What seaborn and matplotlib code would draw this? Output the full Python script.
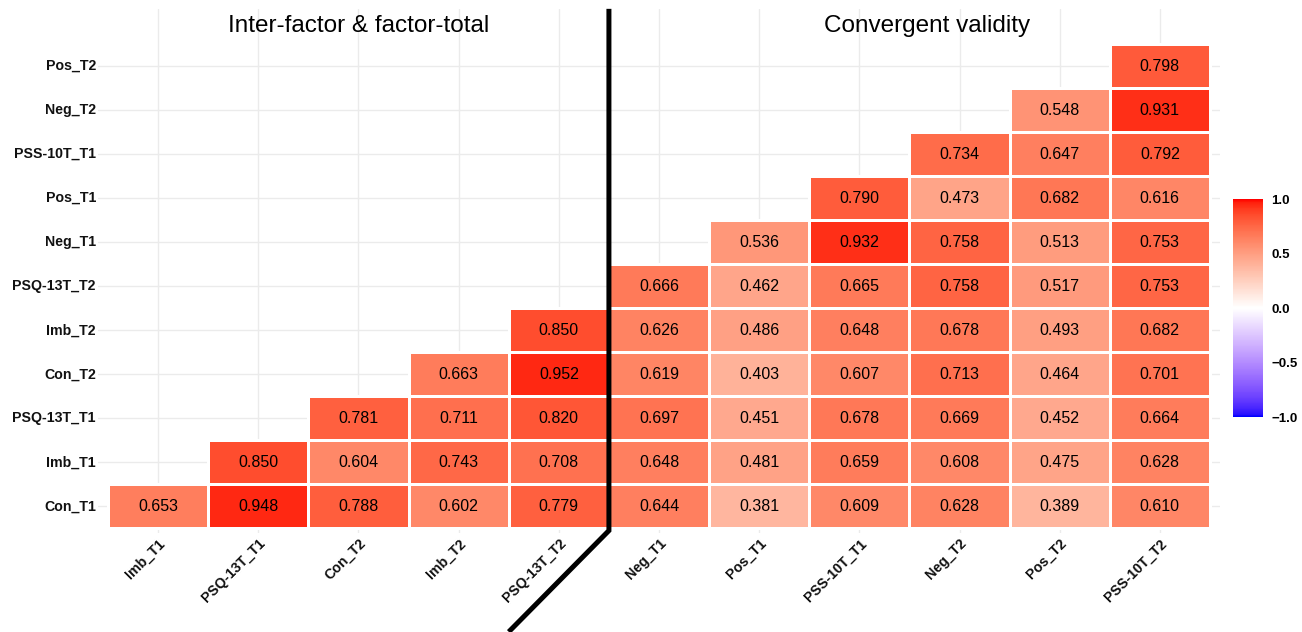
#!/usr/bin/env python3
"""
Correlation heatmap: inter-factor / factor-total and convergent validity.
"""
import numpy as np
import pandas as pd
import matplotlib
matplotlib.use("Agg")
import matplotlib.pyplot as plt
from matplotlib.colors import ListedColormap
import seaborn as sns

NA = np.nan

# Column order (left to right) and row order (top to bottom)
col_labels = ["Imb_T1", "PSQ-13T_T1", "Con_T2", "Imb_T2", "PSQ-13T_T2",
              "Neg_T1", "Pos_T1", "PSS-10T_T1", "Neg_T2", "Pos_T2", "PSS-10T_T2"]
row_labels = ["Pos_T2", "Neg_T2", "PSS-10T_T1", "Pos_T1", "Neg_T1", "PSQ-13T_T2",
              "Imb_T2", "Con_T2", "PSQ-13T_T1", "Imb_T1", "Con_T1"]

# Correlations, one list per row (top to bottom)
pos_t2     = [NA, NA, NA, NA, NA, NA, NA, NA, NA, NA, 0.798]
neg_t2     = [NA, NA, NA, NA, NA, NA, NA, NA, NA, 0.548, 0.931]
pss10_t1   = [NA, NA, NA, NA, NA, NA, NA, NA, 0.734, 0.647, 0.792]
pos_t1     = [NA, NA, NA, NA, NA, NA, NA, 0.790, 0.473, 0.682, 0.616]
neg_t1     = [NA, NA, NA, NA, NA, NA, 0.536, 0.932, 0.758, 0.513, 0.753]
psq13_t2   = [NA, NA, NA, NA, NA, 0.666, 0.462, 0.665, 0.758, 0.517, 0.753]
imb_t2     = [NA, NA, NA, NA, 0.850, 0.626, 0.486, 0.648, 0.678, 0.493, 0.682]
con_t2     = [NA, NA, NA, 0.663, 0.952, 0.619, 0.403, 0.607, 0.713, 0.464, 0.701]
psq13_t1   = [NA, NA, 0.781, 0.711, 0.820, 0.697, 0.451, 0.678, 0.669, 0.452, 0.664]
imb_t1     = [NA, 0.850, 0.604, 0.743, 0.708, 0.648, 0.481, 0.659, 0.608, 0.475, 0.628]
con_t1     = [0.653, 0.948, 0.788, 0.602, 0.779, 0.644, 0.381, 0.609, 0.628, 0.389, 0.610]

n_first_block = 5  # columns in "Inter-factor & factor-total"

corr_df = pd.DataFrame(
    [pos_t2, neg_t2, pss10_t1, pos_t1, neg_t1, psq13_t2,
     imb_t2, con_t2, psq13_t1, imb_t1, con_t1],
    index=row_labels, columns=col_labels)

# ggplot-like blue-white-red gradient, interpolated in CIELAB
WHITE = np.array([0.95047, 1.0, 1.08883])
M = np.array([[0.4124564, 0.3575761, 0.1804375],
              [0.2126729, 0.7151522, 0.0721750],
              [0.0193339, 0.1191920, 0.9503041]])
M_INV = np.linalg.inv(M)


def to_lab(rgb):
    rgb = np.asarray(rgb, float)
    lin = np.where(rgb <= 0.04045, rgb / 12.92, ((rgb + 0.055) / 1.055) ** 2.4)
    xyz = M @ lin / WHITE
    f = np.where(xyz > (6 / 29) ** 3, np.cbrt(xyz), xyz / (3 * (6 / 29) ** 2) + 4 / 29)
    return np.array([116 * f[1] - 16, 500 * (f[0] - f[1]), 200 * (f[1] - f[2])])


def to_rgb(lab):
    fy = (lab[0] + 16) / 116
    f = np.array([fy + lab[1] / 500, fy, fy - lab[2] / 200])
    xyz = np.where(f > 6 / 29, f ** 3, 3 * (6 / 29) ** 2 * (f - 4 / 29)) * WHITE
    lin = np.clip(M_INV @ xyz, 0, 1)
    rgb = np.where(lin <= 0.0031308, 12.92 * lin, 1.055 * lin ** (1 / 2.4) - 0.055)
    return np.clip(rgb, 0, 1)


lab_blue, lab_white, lab_red = to_lab([0, 0, 1]), to_lab([1, 1, 1]), to_lab([1, 0, 0])
ramp = [to_rgb(lab_blue + (lab_white - lab_blue) * t) for t in np.linspace(0, 1, 128)]
ramp += [to_rgb(lab_white + (lab_red - lab_white) * t) for t in np.linspace(0, 1, 128)]
cmap = ListedColormap(ramp)

sns.set_theme(style="white")
plt.rcParams["font.family"] = ["Liberation Sans", "DejaVu Sans"]

fig = plt.figure(figsize=(13.02, 6.32), dpi=100)
ax = fig.add_axes([0.0753, 0.157, 0.8617, 0.829])
cax = fig.add_axes([0.947, 0.340, 0.023, 0.345])

sns.heatmap(corr_df, ax=ax, cbar_ax=cax, cmap=cmap, vmin=-1, vmax=1,
            annot=True, fmt=".3f", linewidths=0.75, linecolor="white",
            annot_kws={"color": "black", "fontsize": 11.5})

# white borders only around filled tiles, so the grid stays continuous
mesh = ax.collections[0]
filled = corr_df.notna().to_numpy().ravel()
edge_rgba = np.zeros((filled.size, 4))
edge_rgba[filled] = [1, 1, 1, 1]
mesh.set_edgecolors(edge_rgba)

# light grid through the cell centres, behind the tiles
ax.set_axisbelow(True)
ax.grid(True, color="#EBEBEB", linewidth=1.0)
ax.set_xlim(-0.1, len(col_labels) + 0.1)
ax.set_ylim(len(row_labels) + 0.1, -0.8)
ax.set_xlabel("")
ax.set_ylabel("")
ax.tick_params(axis="both", length=0)
ax.tick_params(axis="y", pad=1.5)
ax.tick_params(axis="x", pad=2.5)
for lbl in ax.get_yticklabels():
    lbl.set_fontsize(10.2)
    lbl.set_fontweight("bold")
    lbl.set_color("#111111")
    lbl.set_rotation(0)
for lbl in ax.get_xticklabels():
    lbl.set_fontsize(10.2)
    lbl.set_fontweight("bold")
    lbl.set_color("#111111")
    lbl.set_rotation(45)
    lbl.set_ha("right")
    lbl.set_va("top")
    lbl.set_rotation_mode("anchor")

# block titles
ax.text(n_first_block / 2, -0.27, "Inter-factor & factor-total",
        ha="center", va="baseline", fontsize=17.5, color="black")
ax.text(8.18, -0.27, "Convergent validity",
        ha="center", va="baseline", fontsize=17.5, color="black")

# separator line between the two blocks
ax.plot([n_first_block, n_first_block, n_first_block - 1],
        [-0.8, len(row_labels) + 0.05, len(row_labels) + 2.35],
        color="black", linewidth=3.6, solid_capstyle="butt",
        solid_joinstyle="miter", clip_on=False)

# colourbar styling
cbar = mesh.colorbar
cbar.set_ticks([1.0, 0.5, 0.0, -0.5, -1.0])
cbar.set_ticklabels(["1.0", "0.5", "0.0", "\u22120.5", "\u22121.0"])
cbar.outline.set_visible(False)
cax.tick_params(direction="in", length=4.5, width=0.8, color="white",
                left=True, right=True, labelleft=False, labelright=True,
                pad=6, labelsize=9.5, labelcolor="black")
for lbl in cax.get_yticklabels():
    lbl.set_fontweight("bold")

fig.savefig("out.png", dpi=100, facecolor="white")
plt.close(fig)
